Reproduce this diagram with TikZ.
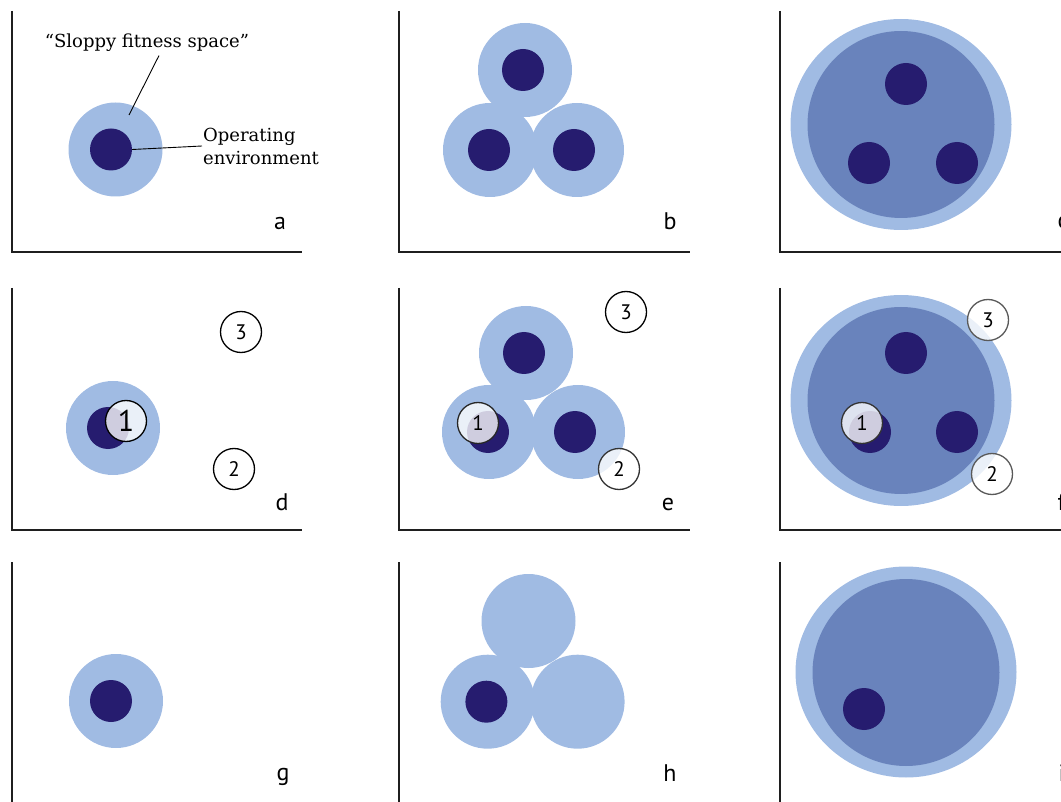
\documentclass[tikz,border=0pt]{standalone}
\usepackage{fontspec}
\usepackage{tikz}
\usetikzlibrary{positioning, shapes.geometric}
\setmainfont{DejaVu Serif}
\newfontfamily\labelfont{PT Sans}
\definecolor{fitblue}{HTML}{A0BBE3}
\definecolor{poolblue}{HTML}{6983BC}
\definecolor{envnavy}{HTML}{261C6F}

\begin{document}
\begin{tikzpicture}[
    x=1pt, y=-1pt,
    space/.style={circle, fill=fitblue, minimum size=94pt, inner sep=0pt},
    env/.style={circle, fill=envnavy, minimum size=42pt, inner sep=0pt},
    outerpool/.style={ellipse, fill=fitblue, minimum width=221pt, minimum height=211pt, inner sep=0pt},
    innerpool/.style={circle, fill=poolblue, minimum size=187pt, inner sep=0pt},
    site/.style={circle, draw=black, line width=1.3pt, fill=white, fill opacity=0.78, text opacity=1, minimum size=41pt, inner sep=0pt, font=\labelfont\fontsize{21}{21}\selectfont},
    greysite/.style={site, draw=black!65},
    axis/.style={line width=2.8pt, draw=black!88},
    leader/.style={line width=0.9pt},
    panel/.style={font=\labelfont\fontsize{24}{24}\selectfont, anchor=base},
    every node/.style={font=\fontsize{18}{23}\selectfont}
]
    \useasboundingbox (0,0) rectangle (1061,802);

    % Axes
    \draw[axis] (12,11) |- (302,252);
    \draw[axis] (399,11) |- (690,252);
    \draw[axis] (780,11) |- (1075,252);
    \draw[axis] (12,288) |- (302,530);
    \draw[axis] (399,288) |- (690,530);
    \draw[axis] (780,288) |- (1075,530);
    \draw[axis] (12,562) -- (12,815);
    \draw[axis] (399,562) -- (399,815);
    \draw[axis] (780,562) -- (780,815);

    % Panel a
    \node[space] (a-space) at (115.5,149.5) {};
    \node[env] (a-env) at (111,149.5) {};
    \node[anchor=base] (sloppy) at (147,48) {“Sloppy fitness space”};
    \node[align=left, anchor=west, inner sep=1pt] (opnote) at (202,146) {Operating\\environment};
    \coordinate (a-pin) at (129,115);
    \draw[leader] ([xshift=12pt]sloppy.south) -- (a-pin);
    \draw[leader] (a-env.east) -- (opnote.west);
    \node[panel] (lab-a) at (280,230) {a};

    % Panel b
    \node[space] (b-top) at (525,70) {};
    \node[space] (b-left) at (490,150) {};
    \node[space] (b-right) at (577,150) {};
    \node[env] (b-top-env) at (523,70) {};
    \node[env] (b-left-env) at (489,150) {};
    \node[env] (b-right-env) at (574,150) {};
    \node[panel] (lab-b) at (670,230) {b};

    % Panel c
    \node[outerpool] (c-out) at (901,124.5) {};
    \node[innerpool] (c-in) at (901,124.5) {};
    \node[env] (c-top-env) at (906,84) {};
    \node[env] (c-left-env) at (869,163) {};
    \node[env] (c-right-env) at (957,163) {};
    \node[panel, anchor=base west] (lab-c) at (1054,229) {c};

    % Panel d
    \node[space] (d-space) at (113,428) {};
    \node[env] (d-env) at (108,428) {};
    \node[site, font=\labelfont\fontsize{30}{30}\selectfont] (d-one) at (126,421) {1};
    \node[site] (d-two) at (234,469) {2};
    \node[site] (d-three) at (241,332) {3};
    \node[panel] (lab-d) at (282,510) {d};

    % Panel e
    \node[space] (e-top) at (526,353) {};
    \node[space] (e-left) at (489,432) {};
    \node[space] (e-right) at (578,432) {};
    \node[env] (e-top-env) at (524,353) {};
    \node[env] (e-left-env) at (488,432) {};
    \node[env] (e-right-env) at (575,432) {};
    \node[site, draw=black!85] (e-one) at (478,423) {1};
    \node[site, draw=black!80] (e-two) at (619,469) {2};
    \node[site] (e-three) at (626,312) {3};
    \node[panel] (lab-e) at (668,510) {e};

    % Panel f
    \node[outerpool] (f-out) at (901,400.5) {};
    \node[innerpool] (f-in) at (901,400.5) {};
    \node[env] (f-top-env) at (906,353) {};
    \node[env] (f-left-env) at (870,432) {};
    \node[env] (f-right-env) at (957,432) {};
    \node[site, draw=black!80] (f-one) at (862,423) {1};
    \node[greysite] (f-two) at (992,474) {2};
    \node[greysite] (f-three) at (988,320) {3};
    \node[panel, anchor=base west] (lab-f) at (1054,510) {f};

    % Panel g
    \node[space] (g-space) at (116,701) {};
    \node[env] (g-env) at (111,701) {};
    \node[panel] (lab-g) at (283,780) {g};

    % Panel h
    \node[space] (h-top) at (528.5,621) {};
    \node[space] (h-left) at (487.7,701.7) {};
    \node[space] (h-right) at (577.6,701.7) {};
    \node[env] (h-left-env) at (486.4,701.7) {};
    \node[panel] (lab-h) at (670,781) {h};

    % Panel i
    \node[outerpool] (i-out) at (906,672) {};
    \node[innerpool] (i-in) at (906,672.5) {};
    \node[env] (i-env) at (864,709) {};
    \node[panel, anchor=base west] (lab-i) at (1055,781) {i};
\end{tikzpicture}
\end{document}
